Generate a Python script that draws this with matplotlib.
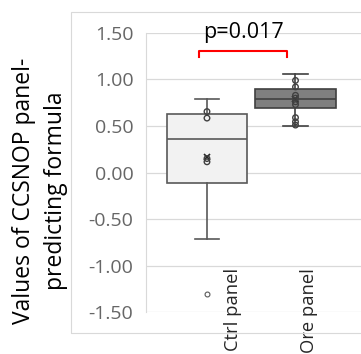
import matplotlib.pyplot as plt
from matplotlib.patches import Rectangle

plt.rcParams['font.family'] = ['Open Sans', 'DejaVu Sans']

# 数据
categories = ['Ctrl panel', 'Ore panel']
q1 = [-0.11, 0.69]
median = [0.36, 0.785]
q3 = [0.625, 0.90]
whisker_low = [-0.715, 0.50]
whisker_high = [0.79, 1.06]
means = [0.17, 0.79]
outliers = [[-1.31], []]
inner_points = [
    [0.655, 0.585, 0.15, 0.115],
    [0.99, 0.92, 0.83, 0.80, 0.76, 0.73, 0.59, 0.545, 0.51],
]
y_ticks = [1.5, 1.0, 0.5, 0.0, -0.5, -1.0, -1.5]
p_label = 'p=0.017'

box_fill = ['#f2f2f2', '#7f7f7f']
box_edge = ['#595959', '#404040']

fig = plt.figure(figsize=(3.61, 3.54), dpi=100)
ax = fig.add_axes([0.4044, 0.1186, 0.5956, 0.7882])

# 外框
fig.patches.append(Rectangle((0.197, 0.0593), 1.0, 0.9068, transform=fig.transFigure,
                             fill=False, edgecolor='#d9d9d9', linewidth=0.8))

positions = [1, 2]
for i, pos in enumerate(positions):
    stats = [dict(q1=q1[i], med=median[i], q3=q3[i], whislo=whisker_low[i],
                  whishi=whisker_high[i], mean=means[i], fliers=outliers[i])]
    ax.bxp(stats, positions=[pos], widths=0.91, capwidths=0.28, patch_artist=True,
           showmeans=True,
           boxprops=dict(facecolor=box_fill[i], edgecolor=box_edge[i], linewidth=1.2),
           medianprops=dict(color=box_edge[i], linewidth=1.2),
           whiskerprops=dict(color=box_edge[i], linewidth=1.2),
           capprops=dict(color=box_edge[i], linewidth=1.2),
           meanprops=dict(marker='x', markeredgecolor='#262626', markersize=5, markeredgewidth=1.2),
           flierprops=dict(marker='o', markerfacecolor='none', markeredgecolor='#595959',
                           markersize=3.5, markeredgewidth=0.8))
    ax.scatter([pos] * len(inner_points[i]), inner_points[i], s=16, facecolors='none',
               edgecolors='#404040', linewidths=1.0, zorder=4)

ax.set_xlim(0.311, 2.74)
ax.set_ylim(-1.5, 1.5)
ax.set_yticks(y_ticks)
ax.set_yticklabels([f'{v:.2f}' for v in y_ticks])
ax.tick_params(axis='y', length=0, pad=9, labelsize=14, labelcolor='#666666')
ax.set_xticks([])
ax.grid(axis='y', color='#d9d9d9', linewidth=0.9)
ax.set_axisbelow(True)
for s in ['top', 'right', 'bottom']:
    ax.spines[s].set_visible(False)
ax.spines['left'].set_color('#d9d9d9')
ax.spines['left'].set_linewidth(0.8)

# 类别标签
label_offsets = [0.29, 0.15]
for i, pos in enumerate(positions):
    ax.text(pos + label_offsets[i], -1.03, categories[i], rotation=90, ha='center', va='top',
            fontsize=13.2, color='#262626', clip_on=False)

# 显著性标记
bx0, bx1, by, btick = 0.91, 1.905, 1.31, 1.245
ax.plot([bx0, bx0, bx1, bx1], [btick, by, by, btick], color='#ff0000', linewidth=1.5,
        clip_on=False)
ax.text((bx0 + bx1) / 2, 1.446, p_label, ha='center', va='baseline', fontsize=15.5,
        color='#000000', clip_on=False)

fig.text(40 / 361, 1 - 191 / 354, 'Values of CCSNOP panel-\npredicting formula',
         rotation=90, ha='center', va='center', multialignment='center', fontsize=16.5,
         linespacing=1.45, color='#000000')

fig.savefig('out.png', dpi=100)
